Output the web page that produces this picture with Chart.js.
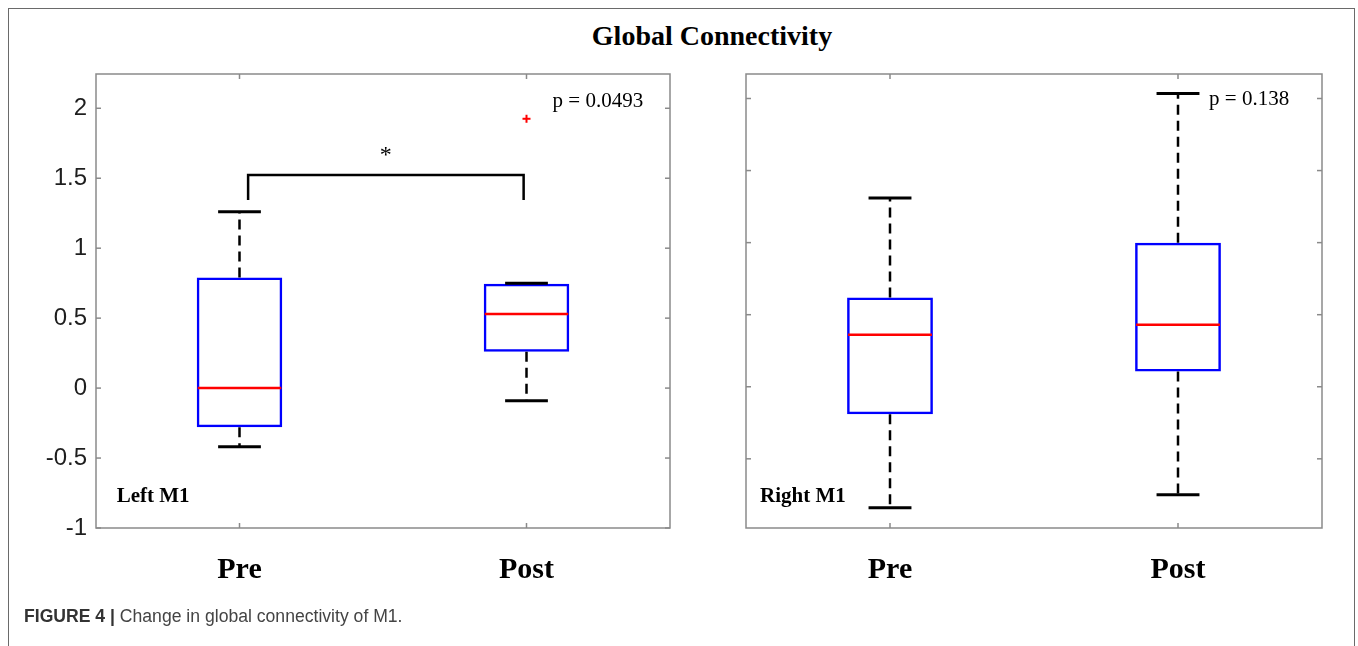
<!DOCTYPE html>
<html>
<head>
<meta charset="utf-8">
<script src="https://cdn.jsdelivr.net/npm/chart.js@4.4.0/dist/chart.umd.min.js"></script>
<style>
  body { margin: 0; background: #fff; }
  #page { position: relative; width: 1358px; height: 646px; overflow: hidden; background: #fff; }
  #frame { position: absolute; left: 8px; top: 8px; width: 1347px; height: 700px;
           border: 1.5px solid #6a6a6a; box-sizing: border-box; }
  #title { position: absolute; left: 712px; top: 22px; transform: translateX(-50%);
           font: bold 28px "Liberation Serif", serif; line-height: 28px; white-space: nowrap; color: #000; }
  #caption { position: absolute; left: 24px; top: 608px; font: 17.6px "Liberation Sans", Arial, sans-serif;
             line-height: 17px; color: #444; white-space: nowrap; }
  #caption b { color: #333; }
  canvas { position: absolute; top: 0; }
  #left { left: 0; }
  #right { left: 700px; }
</style>
</head>
<body>
<div id="page">
  <div id="frame"></div>
  <div id="title">Global Connectivity</div>
  <canvas id="left" width="700" height="646"></canvas>
  <canvas id="right" width="658" height="646"></canvas>
  <div id="caption"><b>FIGURE 4 |</b> Change in global connectivity of M1.</div>
</div>
<script>
const categories = ["Pre", "Post"];
const yTicks = [-1, -0.5, 0, 0.5, 1, 1.5, 2];

// Left M1 box stats
const leftLow = [-0.42, -0.09];
const leftQ1 = [-0.28, 0.26];
const leftMedian = [0, 0.53];
const leftQ3 = [0.79, 0.745];
const leftHigh = [1.26, 0.75];
const leftOutliers = [[], [1.925]];

// Right M1 box stats
const rightLow = [-0.84, -0.75];
const rightQ1 = [-0.19, 0.105];
const rightMedian = [0.36, 0.43];
const rightQ3 = [0.62, 1.0];
const rightHigh = [1.31, 2.035];
const rightOutliers = [[], []];

// significance bracket between Pre and Post (left panel)
const bracketX = [0.03, 0.99];
const bracketTop = 1.523;
const bracketFoot = 1.345;

const frameColor = "#8a8a8a";

function line(ctx, x1, y1, x2, y2) {
  ctx.beginPath();
  ctx.moveTo(x1, y1);
  ctx.lineTo(x2, y2);
  ctx.stroke();
}

const boxParts = {
  id: "boxParts",
  afterDatasetsDraw(chart, args, opts) {
    const ctx = chart.ctx;
    const y = chart.scales.y;
    const meta = chart.getDatasetMeta(0);
    ctx.save();
    meta.data.forEach((bar, i) => {
      const cx = bar.x;
      const half = bar.width / 2;
      // dashed whiskers
      ctx.strokeStyle = "#000";
      ctx.lineWidth = 2.5;
      ctx.setLineDash([10, 6]);
      line(ctx, cx, y.getPixelForValue(opts.q3[i]), cx, y.getPixelForValue(opts.high[i]));
      line(ctx, cx, y.getPixelForValue(opts.q1[i]), cx, y.getPixelForValue(opts.low[i]));
      ctx.setLineDash([]);
      // caps
      ctx.lineWidth = 3;
      line(ctx, cx - half / 2, y.getPixelForValue(opts.high[i]), cx + half / 2, y.getPixelForValue(opts.high[i]));
      line(ctx, cx - half / 2, y.getPixelForValue(opts.low[i]), cx + half / 2, y.getPixelForValue(opts.low[i]));
      // median
      ctx.strokeStyle = "#ff0000";
      ctx.lineWidth = 2.5;
      const my = y.getPixelForValue(opts.median[i]);
      line(ctx, cx - half + 1, my, cx + half - 1, my);
      // outliers
      ctx.lineWidth = 2;
      opts.outliers[i].forEach((v) => {
        const oy = y.getPixelForValue(v);
        line(ctx, cx - 4, oy, cx + 4, oy);
        line(ctx, cx, oy - 4, cx, oy + 4);
      });
    });
    ctx.restore();
  },
  afterDraw(chart, args, opts) {
    const ctx = chart.ctx;
    const a = chart.chartArea;
    const x = chart.scales.x, y = chart.scales.y;
    ctx.save();
    // axes box
    ctx.strokeStyle = frameColor;
    ctx.lineWidth = 1.5;
    ctx.strokeRect(a.left, a.top, a.right - a.left, a.bottom - a.top);
    // inward tick marks
    y.ticks.forEach((t) => {
      const py = y.getPixelForValue(t.value);
      line(ctx, a.left, py, a.left + 5, py);
      line(ctx, a.right, py, a.right - 5, py);
    });
    categories.forEach((c, i) => {
      const px = x.getPixelForValue(i);
      line(ctx, px, a.top, px, a.top + 5);
      line(ctx, px, a.bottom, px, a.bottom - 5);
    });
    // significance bracket
    if (opts.bracket) {
      ctx.strokeStyle = "#000";
      ctx.lineWidth = 2.5;
      const x1 = x.getPixelForValue(bracketX[0]);
      const x2 = x.getPixelForValue(bracketX[1]);
      const yt = y.getPixelForValue(bracketTop);
      const yf = y.getPixelForValue(bracketFoot);
      ctx.beginPath();
      ctx.moveTo(x1, yf);
      ctx.lineTo(x1, yt);
      ctx.lineTo(x2, yt);
      ctx.lineTo(x2, yf);
      ctx.stroke();
      ctx.fillStyle = "#000";
      ctx.font = '24px "Liberation Serif", serif';
      ctx.textAlign = "center";
      ctx.textBaseline = "alphabetic";
      ctx.fillText("*", x.getPixelForValue((bracketX[0] + bracketX[1]) / 2), y.getPixelForValue(1.615));
    }
    // p value and panel name
    ctx.fillStyle = "#000";
    ctx.textAlign = "left";
    ctx.textBaseline = "middle";
    ctx.font = '21px "Liberation Serif", serif';
    ctx.fillText(opts.pText, x.getPixelForValue(opts.pPos[0]), y.getPixelForValue(opts.pPos[1]));
    ctx.font = 'bold 21px "Liberation Serif", serif';
    ctx.fillText(opts.name, x.getPixelForValue(opts.namePos[0]), y.getPixelForValue(opts.namePos[1]));
    ctx.restore();
  },
};

function makePanel(id, stats, cfg) {
  const ctx = document.getElementById(id).getContext("2d");
  return new Chart(ctx, {
    type: "bar",
    data: {
      labels: categories,
      datasets: [
        {
          data: stats.q1.map((v, i) => [v, stats.q3[i]]),
          backgroundColor: "rgba(0,0,0,0)",
          borderColor: "#0000ff",
          borderWidth: 2.5,
          borderSkipped: false,
          barPercentage: 0.298,
          categoryPercentage: 1,
        },
      ],
    },
    options: {
      responsive: false,
      animation: false,
      layout: { padding: { left: 0, right: cfg.padRight, top: 74, bottom: 0 } },
      plugins: {
        legend: { display: false },
        tooltip: { enabled: false },
        boxParts: Object.assign({}, stats, cfg.notes),
      },
      scales: {
        x: {
          offset: true,
          grid: { display: false, drawTicks: false },
          border: { display: false },
          ticks: {
            color: "#000",
            padding: 24,
            font: { family: '"Liberation Serif", serif', size: 30, weight: "bold" },
          },
          afterFit: (s) => { s.height = 118; },
        },
        y: {
          min: cfg.min,
          max: cfg.max,
          grid: { display: false, drawTicks: false },
          border: { display: false },
          ticks: {
            display: cfg.showLabels,
            color: "#1e1e1e",
            padding: 9,
            font: { family: '"Liberation Sans", Arial, sans-serif', size: 24 },
            callback: (v) => String(v),
          },
          afterBuildTicks: (s) => {
            s.ticks = yTicks.filter((v) => v >= cfg.min && v <= cfg.max).map((v) => ({ value: v }));
          },
          afterFit: (s) => { s.width = cfg.axisWidth; },
        },
      },
    },
    plugins: [boxParts],
  });
}

makePanel(
  "left",
  { low: leftLow, q1: leftQ1, median: leftMedian, q3: leftQ3, high: leftHigh, outliers: leftOutliers },
  {
    min: -1, max: 2.245, axisWidth: 96, padRight: 30, showLabels: true,
    notes: { bracket: true, pText: "p = 0.0493", pPos: [1.091, 2.05], name: "Left M1", namePos: [-0.428, -0.776] },
  }
);

makePanel(
  "right",
  { low: rightLow, q1: rightQ1, median: rightMedian, q3: rightQ3, high: rightHigh, outliers: rightOutliers },
  {
    min: -0.98, max: 2.17, axisWidth: 46, padRight: 36, showLabels: false,
    notes: { bracket: false, pText: "p = 0.138", pPos: [1.108, 1.99], name: "Right M1", namePos: [-0.451, -0.764] },
  }
);
</script>
</body>
</html>
